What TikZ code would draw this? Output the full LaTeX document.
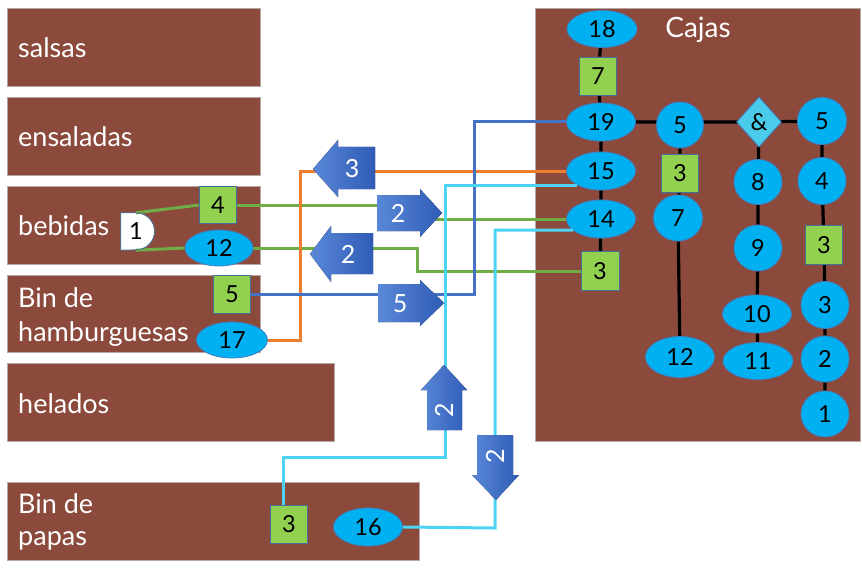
\documentclass[tikz,border=0pt]{standalone}
\usepackage{fontspec}
\setmainfont{Lato}
\usetikzlibrary{shapes.geometric,calc}
\definecolor{boxbrown}{HTML}{8B4A3C}
\definecolor{boxedge}{HTML}{B8A5A5}
\definecolor{ellfill}{HTML}{00B0F0}
\definecolor{ellline}{HTML}{3F7FC0}
\definecolor{sqfill}{HTML}{92D050}
\definecolor{sqline}{HTML}{41719C}
\definecolor{diafill}{HTML}{4BCBEA}
\definecolor{lgreen}{HTML}{70AD47}
\definecolor{lorange}{HTML}{ED7D31}
\definecolor{lblue}{HTML}{4472C4}
\definecolor{lcyan}{HTML}{4DD4F4}
\definecolor{arrL}{HTML}{5A88D8}
\definecolor{arrR}{HTML}{2F5CB6}
\pgfdeclarelayer{bg}
\pgfdeclarelayer{lines}
\pgfsetlayers{bg,lines,main}
\tikzset{
  brownbox/.style={draw=boxedge, line width=0.8pt, fill=boxbrown, inner sep=0pt},
  boxtext/.style={anchor=west, text=white, inner sep=0pt, font=\fontsize{27}{30}\selectfont},
  numfont/.style={font=\fontsize{23.5}{26}\selectfont},
  ell/.style={ellipse, fill=ellfill, draw=ellline, line width=0.8pt, inner sep=0pt, numfont},
  sq/.style={rectangle, fill=sqfill, draw=sqline, line width=0.8pt, inner sep=0pt, minimum width=37pt, minimum height=38pt, numfont},
  dia/.style={diamond, fill=diafill, draw=ellline, line width=0.8pt, inner sep=0pt, minimum width=45pt, minimum height=50pt, numfont},
  blk/.style={draw=black, line width=3.2pt},
  conn/.style={line width=3pt},
  blockarrow/.style={left color=arrL, right color=arrR, draw=none},
  arrtext/.style={text=white, inner sep=0pt, font=\fontsize{25}{28}\selectfont},
}
\begin{document}
\begin{tikzpicture}[x=1pt,y=-1pt]
\useasboundingbox (0,0) rectangle (862,575);

% ---------- boxes ----------
\begin{pgfonlayer}{bg}
\fill[white] (0,0) rectangle (862,575);
\node[brownbox, minimum width=253pt, minimum height=78pt] (bsal) at (133.5,47) {};
\node[brownbox, minimum width=253pt, minimum height=78pt] (bens) at (133.5,136) {};
\node[brownbox, minimum width=253pt, minimum height=78pt] (bbeb) at (133.5,225) {};
\node[brownbox, minimum width=253pt, minimum height=77pt] (bham) at (133.5,313.5) {};
\node[brownbox, minimum width=327pt, minimum height=78pt] (bhel) at (170.5,402) {};
\node[brownbox, minimum width=412pt, minimum height=78pt] (bpap) at (213,521) {};
\node[brownbox, minimum width=325pt, minimum height=433pt] (bcaj) at (697.5,224.5) {};
\end{pgfonlayer}

\node[boxtext] (tsal) at (18,48) {salsas};
\node[boxtext] (tens) at (18,137) {ensaladas};
\node[boxtext] (tbeb) at (18,226) {bebidas};
\node[boxtext] (tham1) at (18,298) {Bin de};
\node[boxtext] (tham2) at (18,334) {hamburguesas};
\node[boxtext] (thel) at (18,404) {helados};
\node[boxtext] (tpap1) at (18,504) {Bin de};
\node[boxtext] (tpap2) at (18,541) {papas};
\node[text=white, inner sep=0pt, font=\fontsize{28}{30}\selectfont] (tcaj) at (698,30) {Cajas};

% ---------- Cajas nodes ----------
\node[ell, minimum width=70pt, minimum height=37pt] (e18) at (602,29) {18};
\node[sq] (s7) at (598,76) {7};
\node[ell, minimum width=69pt, minimum height=38pt] (e19) at (601,122) {19};
\node[ell, minimum width=69pt, minimum height=38pt] (e15) at (601,171) {15};
\node[ell, minimum width=69pt, minimum height=38pt] (e14) at (601,219) {14};
\node[sq, minimum height=39pt, minimum width=38pt] (s3a) at (600,271) {3};

\node[ell, minimum width=47pt, minimum height=46pt] (c5a) at (680,125) {5};
\node[sq] (s3b) at (680,173) {3};
\node[ell, minimum width=49pt, minimum height=46pt] (c7) at (678,218) {7};
\node[ell, minimum width=69pt, minimum height=41pt] (e12b) at (680,357) {12};

\node[dia] (damp) at (759,122) {\&};
\node[ell, minimum width=48pt, minimum height=45pt] (c8) at (758,182) {8};
\node[ell, minimum width=48pt, minimum height=46pt] (c9) at (758,248) {9};
\node[ell, minimum width=69pt, minimum height=38pt] (e10) at (757,314) {10};
\node[ell, minimum width=70pt, minimum height=37pt] (e11) at (758,361) {11};

\node[ell, minimum width=49pt, minimum height=47pt] (c5b) at (822,121) {5};
\node[ell, minimum width=48pt, minimum height=47pt] (c4) at (822,181) {4};
\node[sq, minimum height=39pt] (s3c) at (824,245) {3};
\node[ell, minimum width=48pt, minimum height=47pt] (c3) at (825,305) {3};
\node[ell, minimum width=48pt, minimum height=46pt] (c2) at (825,359) {2};
\node[ell, minimum width=48pt, minimum height=46pt] (c1) at (825,414) {1};

% ---------- left nodes ----------
\node[inner sep=0pt, minimum width=30pt, minimum height=37pt, numfont] (d1) at (136,231.5) {1};
\begin{pgfonlayer}{lines}
\fill[white] (d1.north west) -- (d1.north) arc[start angle=90, end angle=-90, radius=18.5pt] -- (d1.south west) -- cycle;
\end{pgfonlayer}
\draw[sqline, line width=0.8pt] (d1.north west) -- (d1.north) arc[start angle=90, end angle=-90, radius=18.5pt] -- (d1.south west) -- cycle;
\node[sq, minimum height=37pt] (s4) at (218,205) {4};
\node[ell, minimum width=68pt, minimum height=36pt] (e12) at (219,248) {12};
\node[sq] (s5) at (232,294) {5};
\node[ell, minimum width=71pt, minimum height=36pt] (e17) at (232,340) {17};
\node[sq] (s3d) at (289,524) {3};
\node[ell, minimum width=69pt, minimum height=38pt] (e16) at (368,527) {16};

% ---------- connectors under nodes ----------
\begin{pgfonlayer}{lines}
\draw[blk] (e18) -- (s7) -- (e19) -- (e15) -- (e14) -- (s3a);
\draw[blk] (e19.center) -- (damp.center) -- (c5b.center);
\draw[blk] (c5a) -- (s3b) -- (c7) -- (e12b);
\draw[blk] (damp) -- (c8) -- (c9) -- (e10) -- (e11);
\draw[blk] (c5b) -- (c4) -- (s3c) -- (c3) -- (c2) -- (c1);

\draw[conn, lgreen] (d1.north) -- (s4.west);
\draw[conn, lgreen] (d1.south) -- (e12.west);
\draw[conn, lgreen] (s4.east) -- (400,205) -- (400,219) -- (e14.west);
\draw[conn, lgreen] (e12.east) -- (417,248) -- (417,271) -- (s3a.west);
\draw[conn, lorange] (e17.east) -- (300,340) -- (300,171) -- (e15.west);
\draw[conn, lblue] (s5.east) -- (474,294) -- (474,122) -- (e19.west);
\end{pgfonlayer}

% ---------- cyan connectors (over the ellipses) ----------
\coordinate (c15) at ($(e15.center)+(-24,14)$);
\coordinate (c14) at ($(e14.center)+(-28,11)$);
\draw[conn, lcyan] (c15) -- (445,185) -- (445,457) -- (283,457) -- ($(s3d.north)+(-6,0)$);
\draw[conn, lcyan] (c14) -- (495,230) -- (495,528) -- (e16.east);

% ---------- block arrows ----------
\fill[blockarrow] (375,147) -- (338,147) -- (338,140) -- (313,169) -- (338,197) -- (338,189) -- (375,189) -- cycle;
\node[arrtext] (a3) at (352,169) {3};
\fill[blockarrow] (377,195) -- (420,195) -- (420,189) -- (442,213) -- (420,237) -- (420,231) -- (377,231) -- cycle;
\node[arrtext] (a2r) at (398,213) {2};
\fill[blockarrow] (373,233) -- (331,233) -- (331,226) -- (310,254) -- (331,282) -- (331,274) -- (373,274) -- cycle;
\node[arrtext] (a2l) at (348,254) {2};
\fill[blockarrow] (378,284) -- (420,284) -- (420,280) -- (444,303) -- (420,326) -- (420,322) -- (378,322) -- cycle;
\node[arrtext] (a5) at (400,304) {5};
\fill[blockarrow] (427,430) -- (427,390) -- (421,390) -- (444,365) -- (467,390) -- (462,390) -- (462,430) -- cycle;
\node[arrtext, rotate=90] (a2u) at (444,410) {2};
\fill[blockarrow] (477,435) -- (513,435) -- (513,475) -- (519,475) -- (496,500) -- (472,475) -- (477,475) -- cycle;
\node[arrtext, rotate=90] (a2d) at (495,456) {2};
\end{tikzpicture}
\end{document}
